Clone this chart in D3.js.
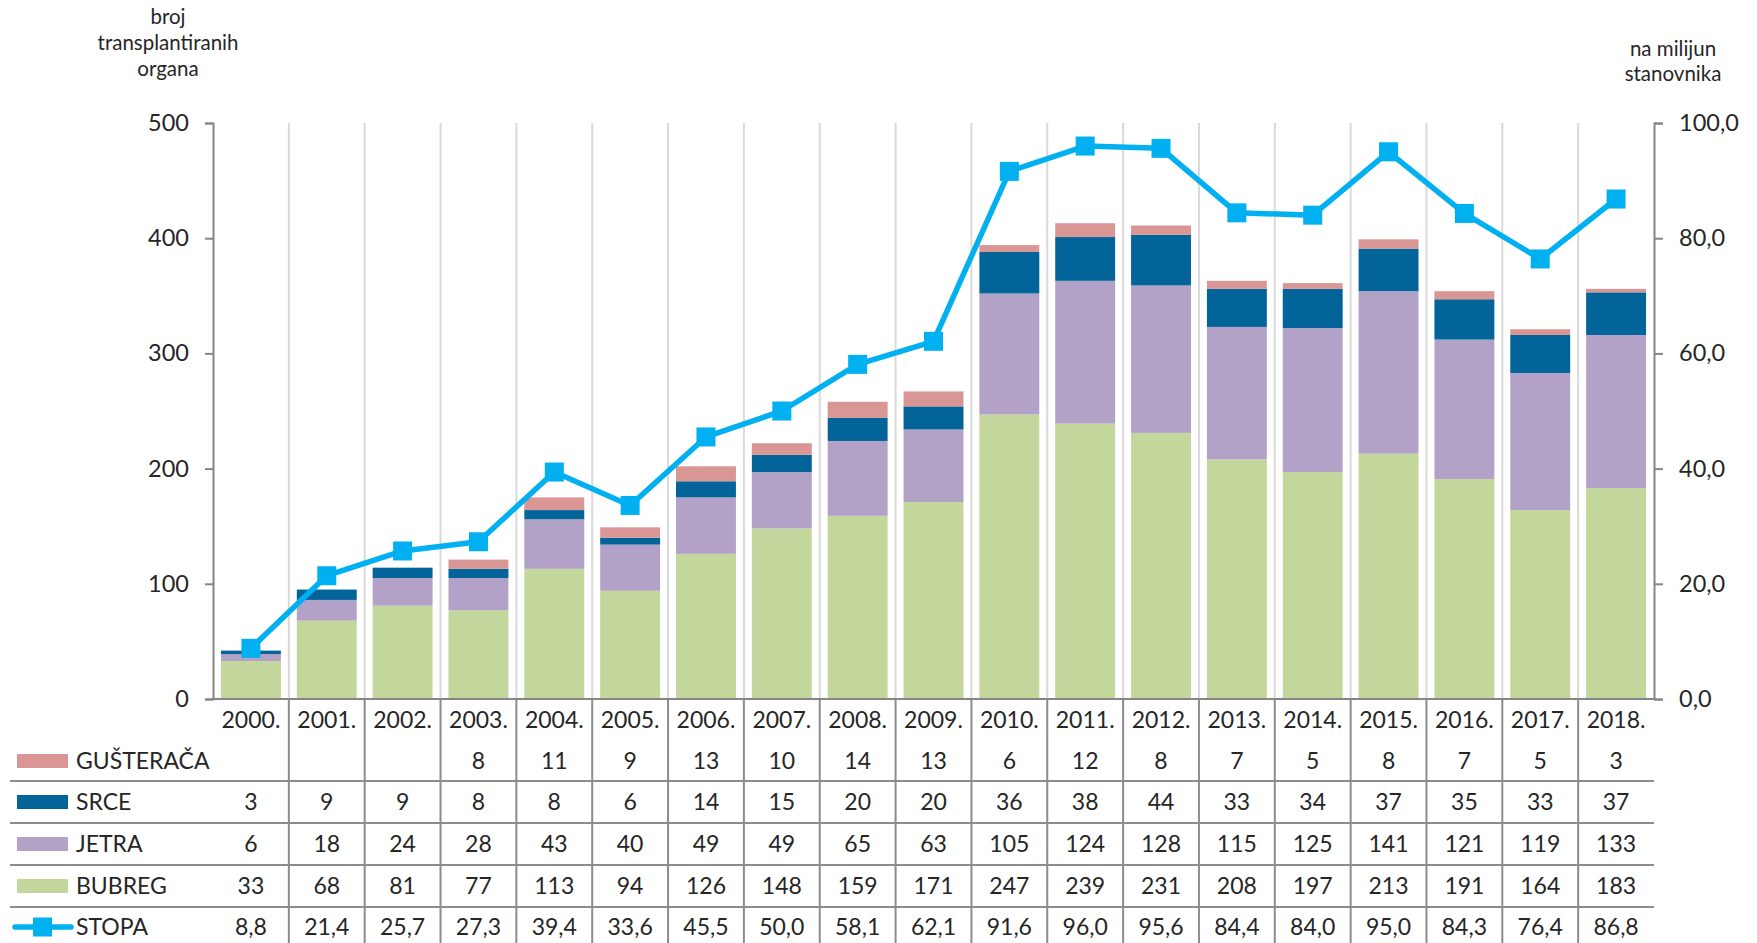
<!DOCTYPE html>
<html>
<head>
<meta charset="utf-8">
<script src="https://cdn.jsdelivr.net/npm/d3@7"></script>
<style>
  body { margin: 0; background: #fff; }
  svg { display: block; font-family: Lato, "Open Sans", sans-serif; }
  .tick text { fill: #262626; }
</style>
</head>
<body>
<svg id="chart" width="1757" height="943"></svg>
<script>
// data
const years = ['2000.', '2001.', '2002.', '2003.', '2004.', '2005.', '2006.', '2007.', '2008.', '2009.',
  '2010.', '2011.', '2012.', '2013.', '2014.', '2015.', '2016.', '2017.', '2018.']
const gusteraca = [null, null, null, 8, 11, 9, 13, 10, 14, 13, 6, 12, 8, 7, 5, 8, 7, 5, 3]
const srce = [3, 9, 9, 8, 8, 6, 14, 15, 20, 20, 36, 38, 44, 33, 34, 37, 35, 33, 37]
const jetra = [6, 18, 24, 28, 43, 40, 49, 49, 65, 63, 105, 124, 128, 115, 125, 141, 121, 119, 133]
const bubreg = [33, 68, 81, 77, 113, 94, 126, 148, 159, 171, 247, 239, 231, 208, 197, 213, 191, 164, 183]
const stopa = [8.8, 21.4, 25.7, 27.3, 39.4, 33.6, 45.5, 50.0, 58.1, 62.1, 91.6, 96.0, 95.6, 84.4, 84.0, 95.0, 84.3, 76.4, 86.8]
const leftTicks = [0, 100, 200, 300, 400, 500]
const rightTicks = [0, 20, 40, 60, 80, 100]

const series = [
  { key: 'BUBREG', values: bubreg, color: '#c3d69b' },
  { key: 'JETRA', values: jetra, color: '#b3a2c7' },
  { key: 'SRCE', values: srce, color: '#03649a' },
  { key: 'GUŠTERAČA', values: gusteraca, color: '#d99694' }
]

const svg = d3.select('#chart')
const pL = 213, pR = 1654, pT = 123, pB = 699
const textCol = '#262626'
const fmt = v => d3.format('.1f')(v).replace('.', ',')

const x = d3.scaleBand().domain(years).range([pL, pR]).paddingInner(0.21).paddingOuter(0.105)
const step = x.step()
const colEdge = i => pL + i * step
const yL = d3.scaleLinear().domain([0, 500]).range([pB, pT])
const yR = d3.scaleLinear().domain([0, 100]).range([pB, pT])

// vertical gridlines between categories
svg.append('g').selectAll('line')
  .data(d3.range(1, years.length))
  .enter().append('line')
  .attr('x1', i => colEdge(i)).attr('x2', i => colEdge(i))
  .attr('y1', pT).attr('y2', pB)
  .attr('stroke', '#d9d9d9').attr('stroke-width', 2)

// stacked bars
const rows = years.map((y, i) => {
  const r = { year: y }
  series.forEach(s => { r[s.key] = s.values[i] || 0 })
  return r
})
const stacked = d3.stack().keys(series.map(s => s.key))(rows)
svg.append('g').selectAll('g')
  .data(stacked)
  .enter().append('g')
  .attr('fill', (d, i) => series[i].color)
  .selectAll('rect')
  .data(d => d)
  .enter().append('rect')
  .attr('x', d => x(d.data.year))
  .attr('width', x.bandwidth())
  .attr('y', d => yL(d[1]))
  .attr('height', d => yL(d[0]) - yL(d[1]))

// axes
const axL = svg.append('g').attr('transform', `translate(${pL},0)`)
  .call(d3.axisLeft(yL).tickValues(leftTicks).tickSize(8).tickPadding(16))
const axR = svg.append('g').attr('transform', `translate(${pR},0)`)
  .call(d3.axisRight(yR).tickValues(rightTicks).tickSize(9).tickPadding(16).tickFormat(fmt))
;[axL, axR].forEach(ax => {
  ax.selectAll('path, line').attr('stroke', '#868686').attr('stroke-width', 2)
  ax.selectAll('text').attr('font-size', 23.5).attr('font-family', 'Lato, sans-serif').attr('fill', textCol)
})
svg.append('line')
  .attr('x1', pL).attr('x2', pR).attr('y1', pB).attr('y2', pB)
  .attr('stroke', '#868686').attr('stroke-width', 2)

// STOPA line
const xc = i => x(years[i]) + x.bandwidth() / 2
const lineGen = d3.line().x((d, i) => xc(i)).y(d => yR(d))
svg.append('path')
  .datum(stopa)
  .attr('d', lineGen)
  .attr('fill', 'none').attr('stroke', '#00b0f0').attr('stroke-width', 5.5)
  .attr('stroke-linejoin', 'round')
svg.append('g').selectAll('rect')
  .data(stopa)
  .enter().append('rect')
  .attr('x', (d, i) => xc(i) - 9.5).attr('y', d => yR(d) - 9.5)
  .attr('width', 19).attr('height', 19)
  .attr('fill', '#00b0f0')

// axis titles
const titleL = svg.append('text').attr('font-size', 20.5).attr('fill', textCol).attr('text-anchor', 'middle')
;['broj', 'transplantiranih', 'organa'].forEach((t, i) => {
  titleL.append('tspan').attr('x', 168).attr('y', 24 + i * 26).text(t)
})
const titleR = svg.append('text').attr('font-size', 20.5).attr('fill', textCol).attr('text-anchor', 'middle')
;['na milijun', 'stanovnika'].forEach((t, i) => {
  titleR.append('tspan').attr('x', 1673).attr('y', 56 + i * 25).text(t)
})

// data table
const table = svg.append('g')
const tableBottom = 943
const rowLines = [781, 823, 865, 907]
table.selectAll('line.h')
  .data(rowLines)
  .enter().append('line')
  .attr('x1', 10).attr('x2', pR)
  .attr('y1', d => d).attr('y2', d => d)
  .attr('stroke', '#8c8c8c').attr('stroke-width', 2)
table.selectAll('line.v')
  .data(d3.range(1, years.length))
  .enter().append('line')
  .attr('x1', i => colEdge(i)).attr('x2', i => colEdge(i))
  .attr('y1', pB).attr('y2', tableBottom)
  .attr('stroke', '#8c8c8c').attr('stroke-width', 2)

const fs = 23
// year header row
table.selectAll('text.year')
  .data(years)
  .enter().append('text')
  .attr('x', (d, i) => colEdge(i) + step / 2)
  .attr('y', 720).attr('dy', '0.36em')
  .attr('text-anchor', 'middle').attr('font-size', fs).attr('fill', textCol)
  .text(d => d)

const tableRows = [
  { name: 'GUŠTERAČA', values: gusteraca, color: '#d99694', cy: 761, f: d => d == null ? '' : d },
  { name: 'SRCE', values: srce, color: '#03649a', cy: 802, f: d => d },
  { name: 'JETRA', values: jetra, color: '#b3a2c7', cy: 844, f: d => d },
  { name: 'BUBREG', values: bubreg, color: '#c3d69b', cy: 886, f: d => d },
  { name: 'STOPA', values: stopa, color: '#00b0f0', cy: 927, f: fmt, line: true }
]
tableRows.forEach(r => {
  const g = table.append('g')
  if (r.line) {
    g.append('line').attr('x1', 15).attr('x2', 71).attr('y1', r.cy).attr('y2', r.cy)
      .attr('stroke', r.color).attr('stroke-width', 5.5).attr('stroke-linecap', 'round')
    g.append('rect').attr('x', 33).attr('y', r.cy - 9.5).attr('width', 19).attr('height', 19).attr('fill', r.color)
  } else {
    g.append('rect').attr('x', 17).attr('y', r.cy - 7).attr('width', 51).attr('height', 14).attr('fill', r.color)
  }
  g.append('text').attr('x', 76).attr('y', r.cy).attr('dy', '0.36em')
    .attr('font-size', fs).attr('fill', textCol).text(r.name)
  g.selectAll('text.v')
    .data(r.values)
    .enter().append('text')
    .attr('x', (d, i) => colEdge(i) + step / 2)
    .attr('y', r.cy).attr('dy', '0.36em')
    .attr('text-anchor', 'middle').attr('font-size', fs).attr('fill', textCol)
    .text(r.f)
})
</script>
</body>
</html>
